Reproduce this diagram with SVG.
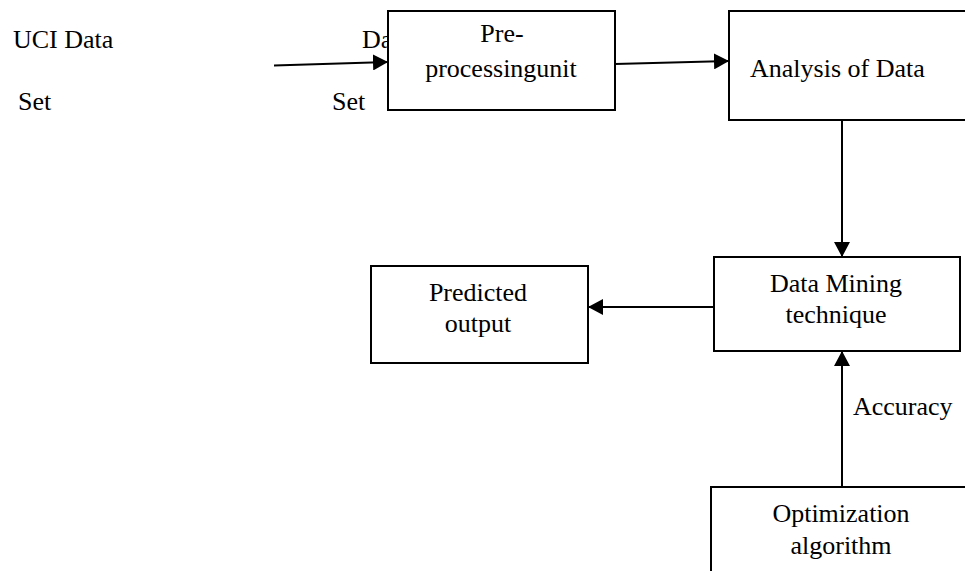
<svg xmlns="http://www.w3.org/2000/svg" width="965" height="571" viewBox="0 0 965 571">
<style>
text{font-family:"Liberation Serif","Times New Roman",serif;font-size:26px;fill:#000}
.box{fill:#fff;stroke:#000;stroke-width:2}
.c{text-anchor:middle}
.ln{stroke:#000;stroke-width:2;fill:none}
</style>
<defs>
<marker id="ah" markerWidth="16" markerHeight="16" viewBox="0 0 16 16" refX="15" refY="8" orient="auto" markerUnits="userSpaceOnUse">
<path d="M0,0 L15,8 L0,16 Z" fill="#000"/>
</marker>
</defs>
<g id="labels">
<text x="13" y="48">UCI Data</text>
<text x="18" y="110">Set</text>
<text x="362" y="48">Da</text>
<text x="332" y="110">Set</text>
</g>
<g id="connectors">
<line class="ln" x1="274" y1="65.5" x2="388" y2="62" marker-end="url(#ah)"/>
<line class="ln" x1="615" y1="64" x2="729" y2="61" marker-end="url(#ah)"/>
<line class="ln" x1="842" y1="120" x2="842" y2="257" marker-end="url(#ah)"/>
<line class="ln" x1="714" y1="307" x2="588" y2="307" marker-end="url(#ah)"/>
<line class="ln" x1="842" y1="487" x2="842" y2="351" marker-end="url(#ah)"/>
<text x="853" y="415">Accuracy</text>
</g>
<g id="preprocessing">
<rect class="box" x="388" y="11" width="227" height="99"/>
<text class="c" x="502" y="42">Pre-</text>
<text class="c" x="501" y="77">processingunit</text>
</g>
<g id="analysis">
<rect class="box" x="729" y="11" width="250" height="109"/>
<text x="750" y="77">Analysis of Data</text>
</g>
<g id="datamining">
<rect class="box" x="714" y="257" width="246" height="94"/>
<text class="c" x="836" y="292">Data Mining</text>
<text class="c" x="836" y="323">technique</text>
</g>
<g id="predicted">
<rect class="box" x="371" y="266" width="217" height="97"/>
<text class="c" x="478" y="301">Predicted</text>
<text class="c" x="478" y="332">output</text>
</g>
<g id="optimization">
<rect class="box" x="711" y="487" width="270" height="100"/>
<text class="c" x="841" y="522">Optimization</text>
<text class="c" x="841" y="554">algorithm</text>
</g>
</svg>
